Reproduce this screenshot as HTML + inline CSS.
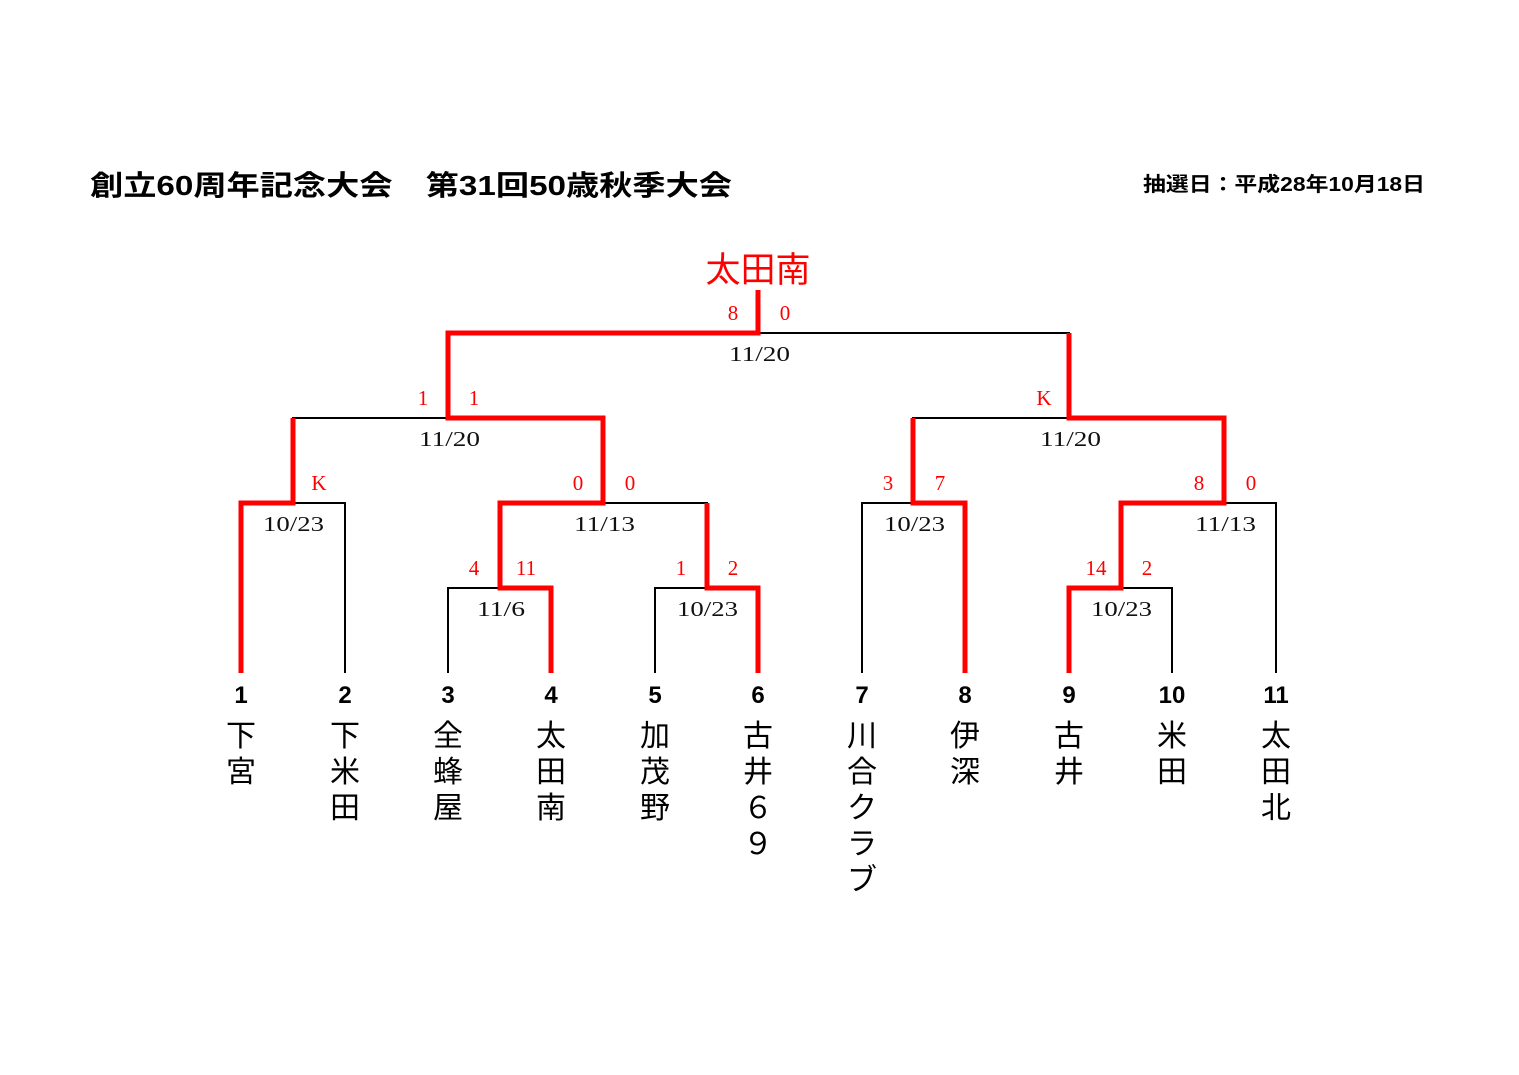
<!DOCTYPE html>
<html><head><meta charset="utf-8"><style>
html,body{margin:0;padding:0;background:#fff;width:1519px;height:1075px;overflow:hidden}
</style></head><body>
<svg width="1519" height="1075" viewBox="0 0 1519 1075" xmlns="http://www.w3.org/2000/svg">
<g fill="none" stroke="#000" stroke-width="2">
<path d="M241 673V503H345V673"/>
<path d="M448 673V588H551V673"/>
<path d="M655 673V588H758V673"/>
<path d="M500 503H707V588"/>
<path d="M293 503V418H603V503"/>
<path d="M862 673V503H965V673"/>
<path d="M1069 673V588H1172V673"/>
<path d="M1121 588V503H1276V673"/>
<path d="M913 503V418H1224V503"/>
<path d="M448 418V333H1069V418"/>
</g>
<g fill="none" stroke="#f00" stroke-width="5" stroke-linejoin="miter">
<path d="M241 673V503H293V418"/>
<path d="M551 673V588H500V503H603V418H448V333H758V290"/>
<path d="M758 673V588H707V503"/>
<path d="M965 673V503H913V418"/>
<path d="M1069 673V588H1121V503H1224V418H1069V333"/>
</g>
<g font-family="Liberation Serif, serif" font-size="21" fill="#f00" text-anchor="middle">
<text x="733" y="320">8</text><text x="785" y="320">0</text>
<text x="423" y="405">1</text><text x="474" y="405">1</text>
<text x="1044" y="405">K</text>
<text x="319" y="490">K</text>
<text x="578" y="490">0</text><text x="630" y="490">0</text>
<text x="888" y="490">3</text><text x="940" y="490">7</text>
<text x="1199" y="490">8</text><text x="1251" y="490">0</text>
<text x="474" y="575">4</text><text x="526" y="575">11</text>
<text x="681" y="575">1</text><text x="733" y="575">2</text>
<text x="1096" y="575">14</text><text x="1147" y="575">2</text>
</g>
<g font-family="Liberation Serif, serif" font-size="21" fill="#111" lengthAdjust="spacingAndGlyphs">
<text x="729" y="361" textLength="61" lengthAdjust="spacingAndGlyphs">11/20</text>
<text x="419" y="446" textLength="61" lengthAdjust="spacingAndGlyphs">11/20</text>
<text x="1040" y="446" textLength="61" lengthAdjust="spacingAndGlyphs">11/20</text>
<text x="263" y="531" textLength="61" lengthAdjust="spacingAndGlyphs">10/23</text>
<text x="574" y="531" textLength="61" lengthAdjust="spacingAndGlyphs">11/13</text>
<text x="884" y="531" textLength="61" lengthAdjust="spacingAndGlyphs">10/23</text>
<text x="1195" y="531" textLength="61" lengthAdjust="spacingAndGlyphs">11/13</text>
<text x="477" y="616" textLength="48" lengthAdjust="spacingAndGlyphs">11/6</text>
<text x="677" y="616" textLength="61" lengthAdjust="spacingAndGlyphs">10/23</text>
<text x="1091" y="616" textLength="61" lengthAdjust="spacingAndGlyphs">10/23</text>
</g>
<text x="758" y="282" font-family="Liberation Sans, Noto Sans CJK JP, sans-serif" font-size="35" fill="#f00" text-anchor="middle">太田南</text>
<text x="90" y="195" font-family="Liberation Sans, Noto Sans CJK JP, sans-serif" font-size="28" font-weight="bold" fill="#000" textLength="642" lengthAdjust="spacingAndGlyphs">創立60周年記念大会　第31回50歳秋季大会</text>
<text x="1143" y="191" font-family="Liberation Sans, Noto Sans CJK JP, sans-serif" font-size="20" font-weight="bold" fill="#000" textLength="282" lengthAdjust="spacingAndGlyphs">抽選日：平成28年10月18日</text>
<g font-family="Liberation Sans, Noto Sans CJK JP, sans-serif" font-size="24" font-weight="bold" fill="#000" text-anchor="middle">
<text x="241" y="703">1</text><text x="345" y="703">2</text><text x="448" y="703">3</text><text x="551" y="703">4</text><text x="655" y="703">5</text><text x="758" y="703">6</text><text x="862" y="703">7</text><text x="965" y="703">8</text><text x="1069" y="703">9</text><text x="1172" y="703">10</text><text x="1276" y="703">11</text>
</g>
<g font-family="Liberation Sans, Noto Sans CJK JP, sans-serif" font-size="30" fill="#000" text-anchor="middle">
<text x="241" y="746">下</text><text x="241" y="782">宮</text>
<text x="345" y="746">下</text><text x="345" y="782">米</text><text x="345" y="818">田</text>
<text x="448" y="746">全</text><text x="448" y="782">蜂</text><text x="448" y="818">屋</text>
<text x="551" y="746">太</text><text x="551" y="782">田</text><text x="551" y="818">南</text>
<text x="655" y="746">加</text><text x="655" y="782">茂</text><text x="655" y="818">野</text>
<text x="758" y="746">古</text><text x="758" y="782">井</text><text x="758" y="818">６</text><text x="758" y="854">９</text>
<text x="862" y="746">川</text><text x="862" y="782">合</text><text x="862" y="818">ク</text><text x="862" y="854">ラ</text><text x="862" y="890">ブ</text>
<text x="965" y="746">伊</text><text x="965" y="782">深</text>
<text x="1069" y="746">古</text><text x="1069" y="782">井</text>
<text x="1172" y="746">米</text><text x="1172" y="782">田</text>
<text x="1276" y="746">太</text><text x="1276" y="782">田</text><text x="1276" y="818">北</text>
</g>
</svg>
</body></html>
